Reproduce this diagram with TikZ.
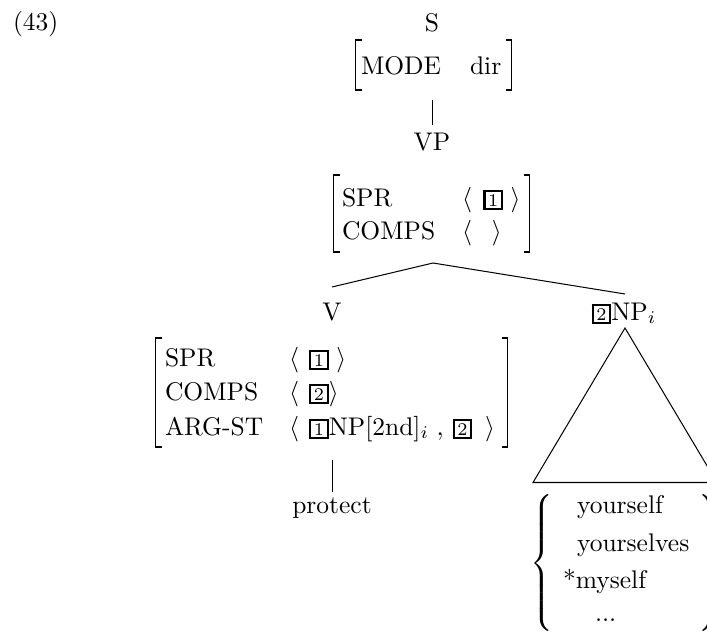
\documentclass[tikz,border=0pt]{standalone}
\usepackage{amsmath}
\newcommand{\tg}[1]{{\setlength{\fboxsep}{0pt}\setlength{\fboxrule}{0.85pt}\fbox{\makebox[6pt]{\rule[-0.6pt]{0pt}{6pt}\scriptsize #1}}}}
\newcommand{\lbrk}[3]{\draw[brk] (#1+6,#2) -- (#1,#2) -- (#1,#3) -- (#1+6,#3);}
\newcommand{\rbrk}[3]{\draw[brk] (#1-6,#2) -- (#1,#2) -- (#1,#3) -- (#1-6,#3);}
\begin{document}
\begin{tikzpicture}[x=0.392pt,y=-0.392pt,
  every node/.style={inner sep=0pt,outer sep=0pt},
  txt/.style={anchor=base west},
  ctxt/.style={anchor=base},
  edge/.style={line width=0.4pt},
  brk/.style={line width=0.4pt}]
\useasboundingbox (0,0) rectangle (707,635);

\node[txt] (num) at (13,30) {(43)};

% S
\node[ctxt] (s) at (432,31) {S};
\lbrk{355.5}{40}{90}
\rbrk{511.5}{40}{90}
\node[txt] (mode) at (361,74) {MODE};
\node[txt] (dir) at (470,74) {dir};
\coordinate (sbot) at (432.5,100);
\coordinate (vptop) at (432.5,125);
\draw[edge] (sbot) -- (vptop);

% VP
\node[ctxt] (vp) at (432,150) {VP};
\lbrk{333.5}{175}{252}
\rbrk{529.5}{175}{252}
\node[txt] (vpspr) at (342,206) {SPR};
\node[txt] (vpcomps) at (342,239) {COMPS};
\node[txt] (vpsprv) at (462,206) {$\langle$\hspace{4.5pt}\tg{1}\hspace{3pt}$\rangle$};
\node[txt] (vpcompsv) at (462,239) {$\langle$\hspace{7.8pt}$\rangle$};
\coordinate (apex) at (433,263);
\coordinate (vtop) at (332,287);
\coordinate (nptop) at (625,294);
\draw[edge] (vtop) -- (apex) -- (nptop);

% V
\node[ctxt] (v) at (332,320) {V};
\lbrk{155.5}{338}{447}
\rbrk{507.5}{338}{447}
\node[txt] (vspr) at (165,366) {SPR};
\node[txt] (vcomps) at (165,400) {COMPS};
\node[txt] (varg) at (165,435) {ARG-ST};
\node[txt] (vsprv) at (289,366) {$\langle$\hspace{4pt}\tg{1}\hspace{3pt}$\rangle$};
\node[txt] (vcompsv) at (289,400) {$\langle$\hspace{4pt}\tg{2}$\rangle$};
\node[txt] (vargv) at (289,435) {$\langle$\hspace{4pt}\tg{1}NP[2nd]$_i$\hspace{3pt},\hspace{3.5pt}\tg{2}\hspace{5pt}$\rangle$};
\coordinate (vbot) at (332.5,460);
\coordinate (prtop) at (332.5,492);
\draw[edge] (vbot) -- (prtop);
\node[ctxt] (protect) at (332,513) {protect};

% NP
\node[ctxt] (np) at (624,320) {\tg{2}NP$_i$};
\coordinate (tapex) at (625,328);
\coordinate (tl) at (533,482.5);
\coordinate (tr) at (717,482.5);
\draw[edge] (tl) -- (tapex) -- (tr) -- cycle;

\node[anchor=east] (lbrace) at (556,563) {$\left\{\vcenter{\hrule height 58pt width 0pt}\right.$};
\node[anchor=west] (rbrace) at (695,563) {$\left.\vcenter{\hrule height 58pt width 0pt}\right\}$};
\node[txt] (y1) at (577,513) {yourself};
\node[txt] (y2) at (577,551) {yourselves};
\node[txt] (y3) at (563,588) {*myself};
\node[txt] (y4) at (595,621) {...};
\end{tikzpicture}
\end{document}
